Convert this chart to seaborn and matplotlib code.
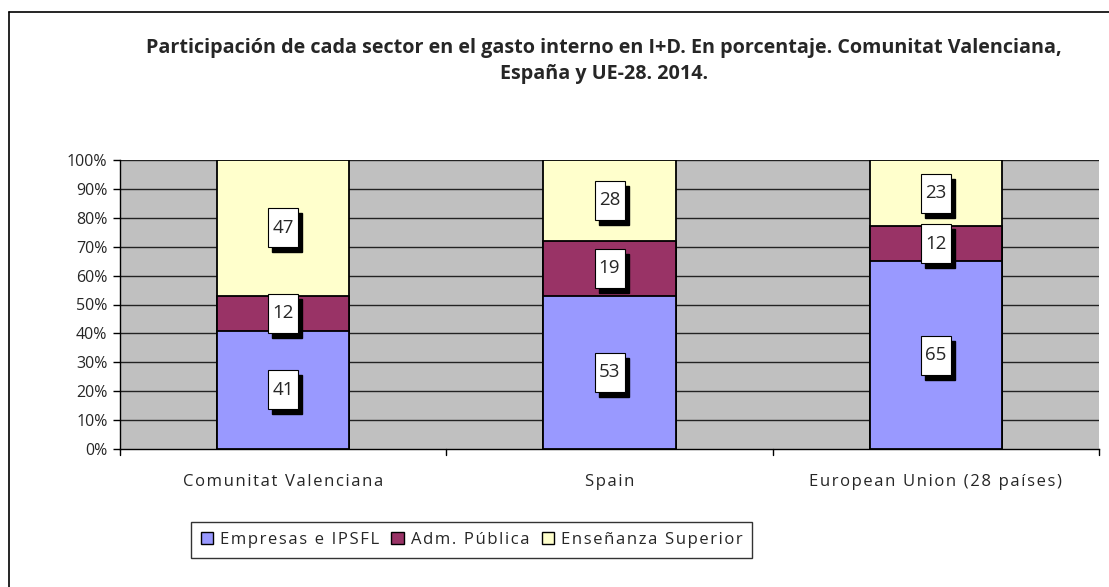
import matplotlib
matplotlib.use("Agg")
import matplotlib.pyplot as plt
import matplotlib.transforms as mtransforms
from matplotlib.patches import Rectangle, Patch
from matplotlib.lines import Line2D
import numpy as np
import pandas as pd
import seaborn as sns

categories = ["Comunitat Valenciana", "Spain", "European Union (28 países)"]
empresas = [41, 53, 65]
adm_publica = [12, 19, 12]
ens_superior = [47, 28, 23]
series_names = ["Empresas e IPSFL", "Adm. Pública", "Enseñanza Superior"]
colors = ["#9999FF", "#993366", "#FFFFCC"]
title = ("Participación de cada sector en el gasto interno en I+D. En porcentaje. Comunitat Valenciana,\n"
         "España y UE-28. 2014.")

sns.set_theme(style="white")
plt.rcParams["font.family"] = ["Open Sans", "DejaVu Sans"]


def spaced(s):
    # emulate the wide letter spacing of the original rendering
    return "\u200a".join(list(s))


W, H = 1109, 587
fig = plt.figure(figsize=(W / 100, H / 100), dpi=100)
ax = fig.add_axes([120 / W, 1 - 449 / H, (1099 - 120) / W, (449 - 160) / H])
ax.set_facecolor("#C0C0C0")

emp = np.array(empresas)
adm = np.array(adm_publica)
ens = np.array(ens_superior)
cum1 = emp
cum2 = emp + adm
cum3 = emp + adm + ens

df = pd.DataFrame({"cat": categories, "c1": cum1, "c2": cum2, "c3": cum3})
width = 132 / 326.3
for col, c in [("c3", colors[2]), ("c2", colors[1]), ("c1", colors[0])]:
    sns.barplot(data=df, x="cat", y=col, color=c, width=width, saturation=1,
                edgecolor="black", linewidth=1.3, ax=ax, zorder=3)

ax.set_ylim(0, 100)
ax.set_xlim(-0.5, 2.5)
ax.set_yticks(np.arange(0, 101, 10))
ax.set_yticklabels([f"{v}%" for v in range(0, 101, 10)], fontsize=11.5)
for v in range(10, 101, 10):
    ax.axhline(v, color="#222222", linewidth=1.0, zorder=1)
ax.set_xticks([0, 1, 2])
ax.set_xticklabels([spaced(c) for c in categories], fontsize=12)
ax.tick_params(axis="x", length=0, pad=18)
ax.tick_params(axis="y", length=5, width=1, direction="out", left=True, color="black", pad=4)
ax.set_xlabel("")
ax.set_ylabel("")
for s in ["top", "right"]:
    ax.spines[s].set_visible(False)
for s in ["left", "bottom"]:
    ax.spines[s].set_color("black")
    ax.spines[s].set_linewidth(1)
# category boundary ticks
for xb in [-0.5, 0.5, 1.5, 2.5]:
    ax.plot([xb, xb], [0, -2], color="black", lw=1, clip_on=False, transform=ax.transData)

# value labels
bw, bh = 30 / 100, 39 / 100
sx, sy = 4 / 100, -5 / 100
segments = [(np.zeros(3), emp), (cum1, adm), (cum2, ens)]
for bottoms, vals in segments:
    for i, (b, v) in enumerate(zip(bottoms, vals)):
        yc = b + v / 2
        trans = fig.dpi_scale_trans + mtransforms.ScaledTranslation(i, yc, ax.transData)
        ax.add_patch(Rectangle((-bw / 2 + sx, -bh / 2 + sy), bw, bh, transform=trans,
                               facecolor="black", edgecolor="black", zorder=5, clip_on=False))
        ax.add_patch(Rectangle((-bw / 2, -bh / 2), bw, bh, transform=trans,
                               facecolor="white", edgecolor="black", linewidth=0.8,
                               zorder=6, clip_on=False))
        ax.text(i, yc, f"{v}", ha="center", va="center", fontsize=13.5, zorder=7)

fig.text(604 / W, 1 - 61 / H, title, ha="center", va="center", fontsize=14.2,
         fontweight="bold", linespacing=1.35)

handles = [Patch(facecolor=c, edgecolor="black", linewidth=1) for c in colors]
leg = fig.legend(handles, [spaced(s) for s in series_names], loc="center",
                 bbox_to_anchor=(471.5 / W, 1 - 539.5 / H),
                 ncol=3, frameon=True, fancybox=False, handlelength=0.75,
                 handleheight=0.75, handletextpad=0.4, columnspacing=0.75, borderpad=0.6,
                 prop={"size": 12})
leg.get_frame().set_edgecolor("black")
leg.get_frame().set_linewidth(1)

# outer frame (left and top visible)
fig.add_artist(Line2D([8.5 / W, 8.5 / W], [0, 1 - 11.5 / H], color="black", lw=1.2,
                      transform=fig.transFigure))
fig.add_artist(Line2D([8.5 / W, 1], [1 - 11.5 / H, 1 - 11.5 / H], color="black", lw=1.2,
                      transform=fig.transFigure))

fig.savefig("out.png", dpi=100)
